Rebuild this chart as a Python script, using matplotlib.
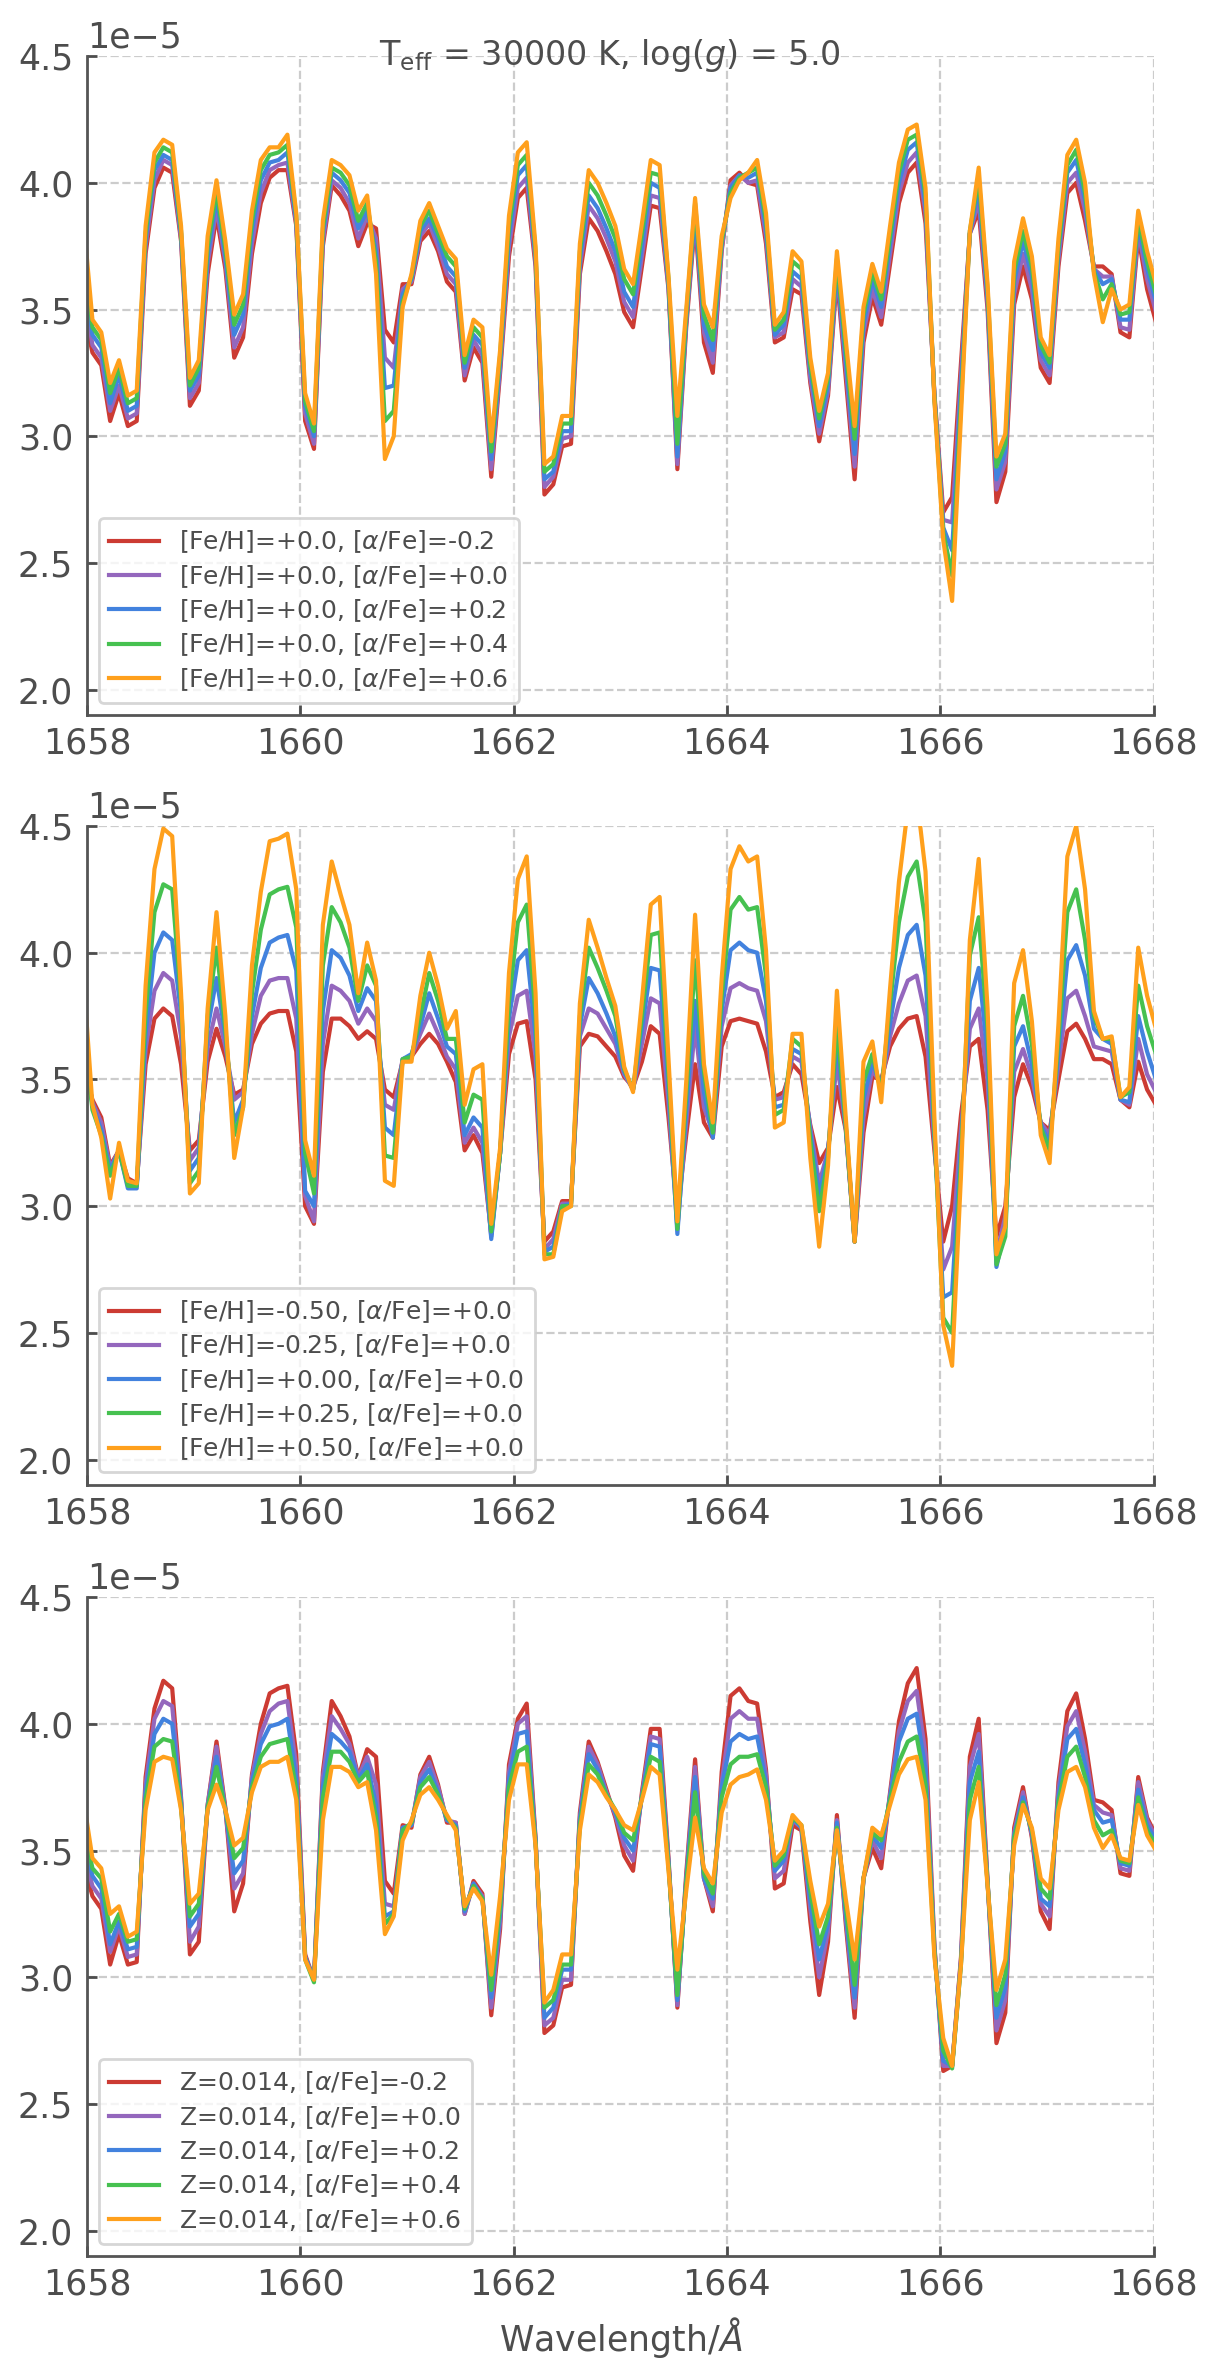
import matplotlib
matplotlib.use('Agg')  # no display in the sandbox
import matplotlib.pyplot as plt
import numpy as np

# wavelength sampling of the synthetic spectra (Angstrom), one point before
# and one after the plotted window so the lines run to the frame
wave = 1658.051 + 0.0831 * np.arange(-1, 121)

flux_unit = 1e-5

# ---- top panel: [Fe/H]=+0.0, varying [alpha/Fe] ----
top_am02 = [3.50,
    3.33, 3.28, 3.06, 3.17, 3.04, 3.06, 3.72, 3.98, 4.06, 4.04,
    3.77, 3.12, 3.18, 3.64, 3.87, 3.66, 3.31, 3.39, 3.72, 3.92,
    4.02, 4.05, 4.05, 3.83, 3.06, 2.95, 3.75, 3.99, 3.95, 3.89,
    3.75, 3.84, 3.82, 3.42, 3.37, 3.60, 3.60, 3.77, 3.81, 3.73,
    3.61, 3.57, 3.22, 3.35, 3.29, 2.84, 3.25, 3.71, 3.94, 3.98,
    3.67, 2.77, 2.81, 2.96, 2.97, 3.64, 3.86, 3.81, 3.73, 3.64,
    3.49, 3.43, 3.67, 3.91, 3.90, 3.58, 2.87, 3.43, 3.85, 3.37,
    3.25, 3.73, 4.01, 4.04, 4.00, 3.99, 3.76, 3.37, 3.39, 3.58,
    3.56, 3.21, 2.98, 3.16, 3.63, 3.23, 2.83, 3.37, 3.55, 3.44,
    3.68, 3.92, 4.04, 4.08, 3.84, 3.17, 2.70, 2.76, 3.29, 3.80,
    3.89, 3.50, 2.74, 2.86, 3.52, 3.67, 3.54, 3.27, 3.21, 3.67,
    3.96, 4.00, 3.85, 3.67, 3.67, 3.64, 3.41, 3.39, 3.79, 3.58,
    3.45]
top_ap00 = [3.59,
    3.36, 3.31, 3.10, 3.20, 3.07, 3.09, 3.75, 4.01, 4.09, 4.07,
    3.78, 3.15, 3.21, 3.68, 3.90, 3.69, 3.35, 3.43, 3.76, 3.96,
    4.05, 4.07, 4.08, 3.84, 3.09, 2.97, 3.77, 4.01, 3.98, 3.92,
    3.78, 3.87, 3.78, 3.31, 3.27, 3.58, 3.61, 3.79, 3.84, 3.75,
    3.64, 3.60, 3.24, 3.38, 3.32, 2.87, 3.27, 3.75, 3.98, 4.02,
    3.69, 2.80, 2.84, 2.99, 3.00, 3.67, 3.91, 3.86, 3.78, 3.69,
    3.53, 3.47, 3.71, 3.95, 3.94, 3.59, 2.89, 3.45, 3.87, 3.41,
    3.29, 3.74, 3.99, 4.03, 4.00, 4.01, 3.79, 3.39, 3.41, 3.62,
    3.59, 3.23, 3.01, 3.18, 3.65, 3.27, 2.88, 3.41, 3.58, 3.47,
    3.72, 3.96, 4.08, 4.12, 3.88, 3.16, 2.67, 2.66, 3.24, 3.80,
    3.93, 3.53, 2.79, 2.90, 3.56, 3.72, 3.58, 3.30, 3.24, 3.70,
    4.00, 4.04, 3.89, 3.66, 3.63, 3.63, 3.43, 3.42, 3.81, 3.62,
    3.49]
top_ap02 = [3.68,
    3.40, 3.35, 3.13, 3.24, 3.10, 3.12, 3.78, 4.05, 4.11, 4.09,
    3.80, 3.18, 3.24, 3.71, 3.94, 3.71, 3.40, 3.48, 3.81, 4.01,
    4.08, 4.09, 4.12, 3.85, 3.12, 3.00, 3.80, 4.04, 4.01, 3.96,
    3.82, 3.89, 3.73, 3.19, 3.20, 3.56, 3.62, 3.81, 3.86, 3.78,
    3.67, 3.63, 3.27, 3.40, 3.36, 2.91, 3.29, 3.79, 4.03, 4.07,
    3.71, 2.83, 2.86, 3.02, 3.02, 3.70, 3.95, 3.90, 3.82, 3.73,
    3.57, 3.51, 3.75, 4.00, 3.98, 3.60, 2.92, 3.46, 3.89, 3.44,
    3.34, 3.76, 3.98, 4.03, 4.02, 4.04, 3.82, 3.40, 3.44, 3.65,
    3.62, 3.26, 3.04, 3.20, 3.68, 3.30, 2.93, 3.44, 3.62, 3.51,
    3.76, 4.00, 4.13, 4.16, 3.91, 3.16, 2.64, 2.55, 3.19, 3.80,
    3.98, 3.55, 2.83, 2.94, 3.61, 3.77, 3.63, 3.33, 3.27, 3.73,
    4.04, 4.09, 3.93, 3.66, 3.60, 3.62, 3.46, 3.46, 3.84, 3.66,
    3.53]
top_ap04 = [3.76,
    3.43, 3.38, 3.17, 3.27, 3.13, 3.15, 3.80, 4.08, 4.14, 4.12,
    3.81, 3.20, 3.27, 3.75, 3.97, 3.74, 3.44, 3.52, 3.85, 4.05,
    4.11, 4.12, 4.15, 3.87, 3.14, 3.02, 3.82, 4.06, 4.04, 3.99,
    3.85, 3.92, 3.69, 3.06, 3.10, 3.53, 3.63, 3.83, 3.89, 3.80,
    3.71, 3.67, 3.29, 3.43, 3.39, 2.94, 3.32, 3.83, 4.07, 4.11,
    3.73, 2.86, 2.89, 3.05, 3.05, 3.73, 4.00, 3.95, 3.87, 3.78,
    3.62, 3.56, 3.80, 4.04, 4.03, 3.62, 2.97, 3.48, 3.92, 3.48,
    3.38, 3.77, 3.96, 4.02, 4.04, 4.06, 3.85, 3.42, 3.46, 3.69,
    3.66, 3.28, 3.07, 3.23, 3.70, 3.34, 2.99, 3.48, 3.65, 3.54,
    3.79, 4.04, 4.17, 4.19, 3.95, 3.15, 2.62, 2.45, 3.13, 3.81,
    4.02, 3.58, 2.88, 2.97, 3.65, 3.81, 3.67, 3.36, 3.29, 3.75,
    4.07, 4.13, 3.96, 3.65, 3.54, 3.60, 3.48, 3.49, 3.86, 3.69,
    3.56]
top_ap06 = [3.85,
    3.46, 3.41, 3.21, 3.30, 3.16, 3.18, 3.83, 4.12, 4.17, 4.15,
    3.83, 3.23, 3.30, 3.79, 4.01, 3.77, 3.48, 3.56, 3.89, 4.09,
    4.14, 4.14, 4.19, 3.88, 3.17, 3.05, 3.85, 4.09, 4.07, 4.03,
    3.89, 3.95, 3.64, 2.91, 3.00, 3.51, 3.64, 3.85, 3.92, 3.83,
    3.74, 3.70, 3.32, 3.46, 3.43, 2.98, 3.34, 3.87, 4.12, 4.16,
    3.75, 2.89, 2.92, 3.08, 3.08, 3.76, 4.05, 4.00, 3.92, 3.83,
    3.66, 3.60, 3.84, 4.09, 4.07, 3.63, 3.08, 3.50, 3.94, 3.52,
    3.43, 3.79, 3.94, 4.01, 4.04, 4.09, 3.88, 3.44, 3.49, 3.73,
    3.69, 3.31, 3.10, 3.25, 3.73, 3.38, 3.04, 3.51, 3.68, 3.57,
    3.83, 4.08, 4.21, 4.23, 3.98, 3.14, 2.59, 2.35, 3.08, 3.81,
    4.06, 3.60, 2.92, 3.01, 3.69, 3.86, 3.71, 3.39, 3.32, 3.78,
    4.11, 4.17, 4.00, 3.64, 3.45, 3.58, 3.50, 3.52, 3.89, 3.73,
    3.60]

# ---- middle panel: [alpha/Fe]=+0.0, varying [Fe/H] ----
mid_fem050 = [3.55,
    3.42, 3.35, 3.16, 3.22, 3.11, 3.09, 3.56, 3.74, 3.78, 3.75,
    3.56, 3.22, 3.26, 3.57, 3.70, 3.59, 3.44, 3.46, 3.64, 3.72,
    3.76, 3.77, 3.77, 3.61, 3.00, 2.93, 3.53, 3.74, 3.74, 3.71,
    3.66, 3.69, 3.66, 3.46, 3.43, 3.57, 3.59, 3.64, 3.68, 3.64,
    3.57, 3.49, 3.22, 3.28, 3.21, 2.89, 3.21, 3.60, 3.72, 3.73,
    3.50, 2.86, 2.90, 3.02, 3.02, 3.63, 3.68, 3.67, 3.63, 3.59,
    3.51, 3.47, 3.57, 3.71, 3.68, 3.35, 2.97, 3.28, 3.56, 3.33,
    3.27, 3.63, 3.73, 3.74, 3.73, 3.72, 3.61, 3.43, 3.45, 3.56,
    3.52, 3.32, 3.17, 3.23, 3.47, 3.30, 2.86, 3.29, 3.51, 3.50,
    3.63, 3.70, 3.74, 3.75, 3.59, 3.22, 2.86, 3.00, 3.36, 3.63,
    3.66, 3.38, 2.88, 3.00, 3.43, 3.56, 3.47, 3.33, 3.30, 3.50,
    3.69, 3.72, 3.66, 3.58, 3.58, 3.56, 3.42, 3.39, 3.57, 3.46,
    3.40]
mid_fem025 = [3.60,
    3.41, 3.33, 3.15, 3.22, 3.09, 3.08, 3.62, 3.85, 3.92, 3.89,
    3.67, 3.18, 3.23, 3.63, 3.78, 3.63, 3.42, 3.45, 3.68, 3.83,
    3.89, 3.90, 3.90, 3.74, 3.04, 2.94, 3.64, 3.87, 3.85, 3.81,
    3.72, 3.78, 3.73, 3.40, 3.38, 3.58, 3.59, 3.68, 3.76, 3.68,
    3.59, 3.54, 3.25, 3.31, 3.25, 2.88, 3.21, 3.67, 3.83, 3.85,
    3.59, 2.83, 2.87, 3.01, 3.01, 3.67, 3.78, 3.76, 3.70, 3.64,
    3.52, 3.46, 3.64, 3.82, 3.80, 3.41, 2.91, 3.33, 3.71, 3.39,
    3.29, 3.71, 3.86, 3.88, 3.86, 3.85, 3.73, 3.42, 3.43, 3.59,
    3.57, 3.31, 3.09, 3.22, 3.57, 3.31, 2.86, 3.35, 3.54, 3.48,
    3.67, 3.80, 3.89, 3.91, 3.75, 3.25, 2.75, 2.84, 3.30, 3.70,
    3.78, 3.50, 2.81, 2.96, 3.53, 3.62, 3.51, 3.33, 3.28, 3.56,
    3.82, 3.85, 3.75, 3.63, 3.62, 3.61, 3.42, 3.40, 3.66, 3.52,
    3.45]
mid_fep000 = [3.65,
    3.40, 3.30, 3.14, 3.22, 3.07, 3.07, 3.68, 4.00, 4.08, 4.05,
    3.76, 3.14, 3.19, 3.70, 3.90, 3.67, 3.33, 3.42, 3.75, 3.94,
    4.04, 4.06, 4.07, 3.93, 3.06, 3.00, 3.77, 4.01, 3.98, 3.91,
    3.77, 3.86, 3.81, 3.31, 3.28, 3.58, 3.60, 3.71, 3.84, 3.74,
    3.63, 3.60, 3.28, 3.35, 3.31, 2.87, 3.21, 3.74, 3.97, 4.01,
    3.67, 2.82, 2.84, 3.00, 3.01, 3.71, 3.90, 3.84, 3.76, 3.67,
    3.53, 3.46, 3.70, 3.94, 3.93, 3.47, 2.89, 3.38, 3.81, 3.45,
    3.27, 3.77, 4.01, 4.04, 4.01, 4.00, 3.81, 3.39, 3.40, 3.62,
    3.60, 3.29, 3.04, 3.21, 3.66, 3.31, 2.86, 3.42, 3.57, 3.47,
    3.72, 3.94, 4.07, 4.11, 3.91, 3.28, 2.64, 2.66, 3.24, 3.81,
    3.94, 3.60, 2.76, 2.92, 3.63, 3.71, 3.56, 3.32, 3.25, 3.61,
    3.97, 4.03, 3.91, 3.70, 3.66, 3.64, 3.42, 3.41, 3.75, 3.61,
    3.50]
mid_fep025 = [3.70,
    3.38, 3.28, 3.12, 3.22, 3.08, 3.08, 3.76, 4.16, 4.27, 4.25,
    3.81, 3.09, 3.14, 3.75, 4.02, 3.70, 3.28, 3.39, 3.84, 4.09,
    4.23, 4.25, 4.26, 4.10, 3.21, 3.05, 3.95, 4.18, 4.12, 4.02,
    3.81, 3.95, 3.87, 3.20, 3.19, 3.58, 3.59, 3.75, 3.92, 3.81,
    3.66, 3.66, 3.33, 3.44, 3.42, 2.90, 3.21, 3.81, 4.12, 4.19,
    3.75, 2.81, 2.81, 3.00, 3.00, 3.75, 4.02, 3.94, 3.85, 3.75,
    3.54, 3.46, 3.75, 4.07, 4.08, 3.52, 2.91, 3.44, 3.97, 3.53,
    3.29, 3.83, 4.17, 4.22, 4.17, 4.18, 3.91, 3.36, 3.38, 3.66,
    3.63, 3.26, 2.98, 3.19, 3.72, 3.32, 2.86, 3.49, 3.60, 3.45,
    3.80, 4.12, 4.30, 4.36, 4.12, 3.30, 2.56, 2.50, 3.18, 3.99,
    4.14, 3.70, 2.77, 2.88, 3.71, 3.83, 3.64, 3.31, 3.22, 3.66,
    4.16, 4.25, 4.05, 3.75, 3.66, 3.66, 3.43, 3.45, 3.87, 3.71,
    3.60]
mid_fep050 = [3.90,
    3.40, 3.27, 3.03, 3.25, 3.10, 3.09, 3.87, 4.33, 4.49, 4.46,
    3.84, 3.05, 3.09, 3.78, 4.16, 3.75, 3.19, 3.39, 3.95, 4.24,
    4.44, 4.45, 4.47, 4.25, 3.26, 3.12, 4.11, 4.36, 4.23, 4.11,
    3.84, 4.04, 3.89, 3.10, 3.08, 3.57, 3.57, 3.83, 4.00, 3.87,
    3.70, 3.77, 3.40, 3.54, 3.56, 2.93, 3.23, 3.92, 4.29, 4.38,
    3.84, 2.79, 2.80, 2.98, 3.00, 3.80, 4.13, 4.02, 3.90, 3.79,
    3.55, 3.45, 3.81, 4.19, 4.22, 3.58, 2.94, 3.49, 4.15, 3.56,
    3.33, 3.90, 4.33, 4.42, 4.36, 4.38, 4.01, 3.31, 3.33, 3.68,
    3.68, 3.19, 2.84, 3.16, 3.85, 3.35, 2.86, 3.57, 3.65, 3.41,
    3.86, 4.28, 4.57, 4.62, 4.32, 3.35, 2.53, 2.37, 3.12, 4.05,
    4.37, 3.78, 2.81, 2.92, 3.88, 4.01, 3.73, 3.28, 3.17, 3.72,
    4.38, 4.50, 4.25, 3.77, 3.66, 3.67, 3.43, 3.47, 4.02, 3.83,
    3.70]

# ---- bottom panel: Z=0.014, varying [alpha/Fe] ----
bot_am02 = [3.45,
    3.32, 3.27, 3.05, 3.17, 3.05, 3.06, 3.79, 4.06, 4.17, 4.14,
    3.71, 3.09, 3.14, 3.68, 3.93, 3.67, 3.26, 3.37, 3.80, 4.00,
    4.12, 4.14, 4.15, 3.88, 3.09, 2.99, 3.81, 4.09, 4.03, 3.95,
    3.79, 3.90, 3.87, 3.38, 3.33, 3.60, 3.59, 3.80, 3.87, 3.76,
    3.61, 3.61, 3.25, 3.38, 3.33, 2.85, 3.19, 3.84, 4.02, 4.08,
    3.55, 2.78, 2.81, 2.96, 2.97, 3.65, 3.93, 3.85, 3.74, 3.63,
    3.48, 3.42, 3.73, 3.98, 3.98, 3.47, 2.88, 3.41, 3.86, 3.39,
    3.26, 3.81, 4.11, 4.14, 4.09, 4.08, 3.82, 3.35, 3.37, 3.60,
    3.58, 3.22, 2.93, 3.14, 3.64, 3.21, 2.84, 3.39, 3.51, 3.43,
    3.73, 4.01, 4.16, 4.22, 3.94, 3.13, 2.63, 2.65, 3.08, 3.87,
    4.02, 3.38, 2.74, 2.86, 3.59, 3.75, 3.55, 3.26, 3.19, 3.77,
    4.05, 4.12, 3.94, 3.70, 3.69, 3.66, 3.41, 3.40, 3.79, 3.63,
    3.56]
bot_ap00 = [3.50,
    3.36, 3.31, 3.10, 3.20, 3.08, 3.09, 3.76, 4.02, 4.09, 4.07,
    3.70, 3.14, 3.20, 3.68, 3.91, 3.66, 3.35, 3.41, 3.79, 3.96,
    4.05, 4.08, 4.09, 3.83, 3.08, 2.99, 3.79, 4.03, 3.98, 3.92,
    3.79, 3.87, 3.76, 3.29, 3.28, 3.59, 3.60, 3.79, 3.85, 3.75,
    3.62, 3.61, 3.25, 3.37, 3.32, 2.88, 3.22, 3.81, 4.00, 4.03,
    3.54, 2.81, 2.84, 2.99, 2.99, 3.63, 3.91, 3.84, 3.73, 3.64,
    3.52, 3.46, 3.72, 3.95, 3.94, 3.46, 2.89, 3.39, 3.83, 3.39,
    3.28, 3.77, 4.02, 4.05, 4.02, 4.02, 3.80, 3.39, 3.42, 3.62,
    3.59, 3.27, 3.00, 3.18, 3.62, 3.23, 2.88, 3.39, 3.54, 3.47,
    3.72, 3.97, 4.09, 4.13, 3.88, 3.12, 2.65, 2.65, 3.07, 3.83,
    3.96, 3.38, 2.79, 2.91, 3.57, 3.73, 3.56, 3.29, 3.24, 3.74,
    3.99, 4.05, 3.89, 3.68, 3.65, 3.64, 3.43, 3.42, 3.77, 3.62,
    3.55]
bot_ap02 = [3.55,
    3.40, 3.35, 3.13, 3.22, 3.11, 3.12, 3.73, 3.96, 4.02, 4.00,
    3.69, 3.20, 3.25, 3.67, 3.87, 3.66, 3.41, 3.46, 3.77, 3.92,
    3.99, 4.00, 4.02, 3.78, 3.08, 2.99, 3.75, 3.96, 3.93, 3.89,
    3.78, 3.84, 3.68, 3.24, 3.26, 3.59, 3.60, 3.77, 3.82, 3.73,
    3.62, 3.60, 3.26, 3.37, 3.31, 2.92, 3.25, 3.78, 3.96, 3.97,
    3.54, 2.84, 2.88, 3.03, 3.03, 3.62, 3.88, 3.82, 3.72, 3.65,
    3.55, 3.50, 3.71, 3.92, 3.91, 3.45, 2.91, 3.38, 3.79, 3.39,
    3.31, 3.75, 3.93, 3.96, 3.94, 3.95, 3.77, 3.42, 3.46, 3.63,
    3.59, 3.30, 3.07, 3.21, 3.61, 3.25, 2.92, 3.39, 3.56, 3.51,
    3.71, 3.93, 4.02, 4.04, 3.82, 3.11, 2.67, 2.65, 3.06, 3.77,
    3.89, 3.37, 2.84, 2.96, 3.56, 3.71, 3.57, 3.31, 3.28, 3.71,
    3.94, 3.98, 3.84, 3.66, 3.61, 3.62, 3.45, 3.44, 3.74, 3.60,
    3.54]
bot_ap04 = [3.60,
    3.43, 3.39, 3.18, 3.25, 3.14, 3.15, 3.70, 3.91, 3.94, 3.93,
    3.67, 3.24, 3.29, 3.67, 3.83, 3.66, 3.47, 3.51, 3.75, 3.87,
    3.92, 3.93, 3.94, 3.74, 3.07, 2.98, 3.71, 3.89, 3.89, 3.85,
    3.77, 3.81, 3.63, 3.21, 3.25, 3.58, 3.61, 3.75, 3.79, 3.72,
    3.63, 3.59, 3.27, 3.36, 3.31, 2.95, 3.28, 3.75, 3.89, 3.91,
    3.53, 2.88, 2.91, 3.05, 3.05, 3.60, 3.84, 3.80, 3.72, 3.66,
    3.57, 3.54, 3.71, 3.87, 3.85, 3.44, 2.93, 3.37, 3.73, 3.41,
    3.33, 3.71, 3.84, 3.87, 3.87, 3.88, 3.75, 3.44, 3.48, 3.63,
    3.60, 3.34, 3.13, 3.24, 3.59, 3.28, 2.97, 3.39, 3.57, 3.54,
    3.70, 3.85, 3.93, 3.95, 3.76, 3.10, 2.71, 2.64, 3.05, 3.70,
    3.83, 3.37, 2.89, 3.01, 3.55, 3.69, 3.58, 3.35, 3.31, 3.69,
    3.87, 3.91, 3.79, 3.62, 3.56, 3.58, 3.46, 3.45, 3.71, 3.58,
    3.52]
bot_ap06 = [3.70,
    3.47, 3.43, 3.25, 3.28, 3.16, 3.18, 3.66, 3.85, 3.87, 3.86,
    3.66, 3.29, 3.33, 3.66, 3.76, 3.66, 3.52, 3.55, 3.73, 3.83,
    3.85, 3.85, 3.87, 3.70, 3.07, 2.99, 3.62, 3.83, 3.83, 3.81,
    3.75, 3.77, 3.58, 3.17, 3.24, 3.54, 3.62, 3.72, 3.75, 3.70,
    3.64, 3.58, 3.28, 3.35, 3.30, 3.01, 3.32, 3.70, 3.84, 3.84,
    3.52, 2.90, 2.95, 3.09, 3.09, 3.58, 3.80, 3.77, 3.71, 3.66,
    3.60, 3.58, 3.70, 3.83, 3.80, 3.42, 3.03, 3.34, 3.63, 3.43,
    3.37, 3.65, 3.76, 3.79, 3.80, 3.82, 3.70, 3.46, 3.50, 3.64,
    3.60, 3.38, 3.20, 3.29, 3.58, 3.31, 3.07, 3.39, 3.59, 3.56,
    3.68, 3.80, 3.86, 3.87, 3.70, 3.08, 2.76, 2.65, 3.05, 3.62,
    3.77, 3.36, 2.95, 3.07, 3.52, 3.68, 3.59, 3.39, 3.35, 3.66,
    3.81, 3.83, 3.75, 3.59, 3.51, 3.56, 3.47, 3.46, 3.68, 3.56,
    3.50]

top_labels = [r'[Fe/H]=+0.0, [$\alpha$/Fe]=-0.2', r'[Fe/H]=+0.0, [$\alpha$/Fe]=+0.0',
              r'[Fe/H]=+0.0, [$\alpha$/Fe]=+0.2', r'[Fe/H]=+0.0, [$\alpha$/Fe]=+0.4',
              r'[Fe/H]=+0.0, [$\alpha$/Fe]=+0.6']
mid_labels = [r'[Fe/H]=-0.50, [$\alpha$/Fe]=+0.0', r'[Fe/H]=-0.25, [$\alpha$/Fe]=+0.0',
              r'[Fe/H]=+0.00, [$\alpha$/Fe]=+0.0', r'[Fe/H]=+0.25, [$\alpha$/Fe]=+0.0',
              r'[Fe/H]=+0.50, [$\alpha$/Fe]=+0.0']
bot_labels = [r'Z=0.014, [$\alpha$/Fe]=-0.2', r'Z=0.014, [$\alpha$/Fe]=+0.0',
              r'Z=0.014, [$\alpha$/Fe]=+0.2', r'Z=0.014, [$\alpha$/Fe]=+0.4',
              r'Z=0.014, [$\alpha$/Fe]=+0.6']

x_ticks = [1658, 1660, 1662, 1664, 1666, 1668]
y_ticks = [2.0, 2.5, 3.0, 3.5, 4.0, 4.5]

colors = ['#cc3b33', '#9467bd', '#4282de', '#46c150', '#ffa01c']
grey = '#4d4d4d'

plt.rcParams.update({
    'font.family': ['DejaVu Sans'],
    'text.color': grey,
    'axes.labelcolor': grey,
    'xtick.labelsize': 12.5,
    'ytick.labelsize': 12.5,
    'xtick.color': grey,
    'ytick.color': grey,
})

panels = [
    ([top_am02, top_ap00, top_ap02, top_ap04, top_ap06], top_labels),
    ([mid_fem050, mid_fem025, mid_fep000, mid_fep025, mid_fep050], mid_labels),
    ([bot_am02, bot_ap00, bot_ap02, bot_ap04, bot_ap06], bot_labels),
]

fig = plt.figure(figsize=(6.1, 11.885), dpi=200)
bottoms = [0.6992, 0.3753, 0.0509]

for (series, labels), bottom in zip(panels, bottoms):
    ax = fig.add_axes([0.0713, bottom, 0.8742, 0.2772])
    for flux, lab, col in zip(series, labels, colors):
        ax.plot(wave, np.array(flux) * flux_unit, color=col, lw=1.5, label=lab)
    ax.set_xlim(1658, 1668)
    ax.set_ylim(1.9e-5, 4.5e-5)
    ax.set_xticks(x_ticks)
    ax.set_yticks([v * flux_unit for v in y_ticks])
    ax.grid(True, ls='--', color='#cccccc', lw=0.8)
    ax.set_axisbelow(True)
    for side in ['top', 'right']:
        ax.spines[side].set_visible(False)
    for side in ['left', 'bottom']:
        ax.spines[side].set_color('#555555')
        ax.spines[side].set_linewidth(1.0)
    ax.tick_params(direction='in', length=3.5, width=1.0, colors=grey)
    ax.tick_params(axis='y', pad=5)
    ax.tick_params(axis='x', pad=4)
    ax.legend(loc='lower left', fontsize=9, labelspacing=0.3)

ax.set_xlabel(r'Wavelength/$\AA$', fontsize=12.5, labelpad=5)
fig.text(0.5, 1 - 65 / 2377, r'T$_{\rm eff}$ = 30000 K, log($g$) = 5.0',
         ha='center', va='baseline', fontsize=12, color=grey)

fig.savefig('out.png', dpi=200)
plt.close(fig)
